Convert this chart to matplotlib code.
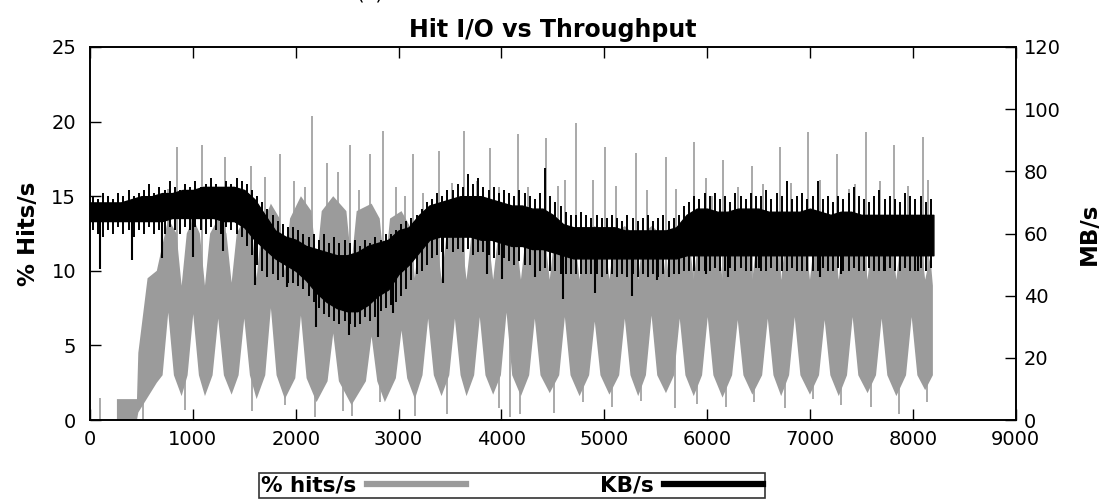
import numpy as np
import matplotlib.pyplot as plt

plt.rcParams['font.family'] = ['DejaVu Sans']

# ---- % hits/s : upper and lower edge of the dense trace ----
hit_hi_x = [262, 457, 470, 560, 650,
            761, 841, 891, 941, 1004, 1068, 1118, 1168, 1247, 1327, 1377, 1427,
            1500, 1570, 1620, 1670, 1759, 1845, 1895, 1945, 2051, 2153, 2203, 2253,
            2365, 2493, 2543, 2593, 2738, 2817, 2867, 2917, 3029, 3109, 3159, 3209,
            3288, 3368, 3418, 3468, 3548, 3611, 3661, 3711, 3790, 3870, 3920, 3970,
            4050, 4140, 4190, 4240, 4325, 4420, 4470, 4520, 4617, 4710, 4760, 4810,
            4908, 5000, 5050, 5100, 5200, 5280, 5330, 5380, 5460, 5550, 5600, 5650,
            5734, 5820, 5870, 5920, 6006, 6100, 6150, 6200, 6298, 6390, 6440, 6490,
            6590, 6670, 6720, 6770, 6852, 6950, 7000, 7050, 7143, 7230, 7280, 7330,
            7415, 7510, 7560, 7610, 7697, 7790, 7840, 7890, 7989, 8070, 8120, 8170,
            8195]
hit_hi_y = [1.4, 1.4, 4.5, 9.5, 10.0,
            13.5, 12.5, 9.0, 12.5, 13.5, 12.5, 9.0, 12.5, 13.5, 12.5, 9.2, 12.5,
            13.5, 13.0, 9.5, 13.0, 14.5, 13.5, 10.0, 13.5, 15.0, 14.0, 10.5, 14.0,
            15.0, 14.0, 10.5, 14.0, 14.5, 13.5, 10.0, 13.5, 14.0, 13.0, 9.5, 13.0,
            13.5, 12.5, 9.4, 12.5, 13.5, 12.5, 9.4, 12.5, 13.5, 12.5, 9.4, 12.5,
            13.5, 12.5, 9.4, 12.5, 13.0, 12.5, 9.4, 12.5, 13.0, 12.5, 9.4, 12.5,
            13.0, 12.5, 9.4, 12.5, 13.0, 12.5, 9.4, 12.5, 13.0, 12.5, 9.4, 12.5,
            13.0, 12.5, 9.4, 12.5, 13.0, 12.5, 9.4, 12.5, 13.0, 12.5, 9.4, 12.5,
            13.0, 12.5, 9.4, 12.5, 13.0, 12.5, 9.4, 12.5, 13.0, 12.5, 9.4, 12.5,
            13.0, 12.5, 9.4, 12.5, 13.0, 12.5, 9.4, 12.5, 13.0, 12.5, 9.4, 11.0,
            9.0]
hit_lo_x = [262, 457, 470, 560, 650,
            706, 761, 816, 891, 949, 1004, 1059, 1118, 1192, 1247, 1302, 1377,
            1445, 1500, 1555, 1620, 1704, 1759, 1814, 1895, 1996, 2051, 2106, 2203,
            2310, 2365, 2420, 2543, 2683, 2738, 2793, 2867, 2974, 3029, 3084, 3159,
            3233, 3288, 3343, 3418, 3493, 3548, 3603, 3661, 3735, 3790, 3845, 3920,
            3995, 4050, 4105, 4190, 4270, 4325, 4380, 4470, 4562, 4617, 4672, 4760,
            4853, 4908, 4963, 5050, 5145, 5200, 5255, 5330, 5405, 5460, 5515, 5600,
            5679, 5734, 5789, 5870, 5951, 6006, 6061, 6150, 6243, 6298, 6353, 6440,
            6535, 6590, 6645, 6720, 6797, 6852, 6907, 7000, 7088, 7143, 7198, 7280,
            7360, 7415, 7470, 7560, 7642, 7697, 7752, 7840, 7934, 7989, 8044, 8120,
            8195]
hit_lo_y = [0.0, 0.0, 0.5, 1.5, 2.5,
            3.0, 7.2, 3.0, 1.6, 3.0, 7.1, 3.0, 1.6, 3.0, 6.8, 3.0, 1.7,
            3.0, 6.8, 3.0, 1.4, 3.0, 7.5, 3.0, 1.4, 2.8, 7.0, 2.8, 1.2,
            2.6, 5.8, 2.6, 1.0, 2.6, 5.6, 2.6, 1.2, 2.8, 6.0, 2.8, 1.4,
            3.0, 6.8, 3.0, 1.6, 3.0, 6.8, 3.0, 1.6, 3.0, 6.9, 3.0, 1.7,
            3.0, 7.2, 3.0, 1.6, 3.0, 6.8, 3.0, 1.8, 3.0, 6.9, 3.0, 1.6,
            3.0, 6.6, 3.0, 1.7, 3.0, 6.8, 3.0, 1.6, 3.0, 7.0, 3.0, 1.8,
            3.0, 6.8, 3.0, 1.6, 3.0, 6.9, 3.0, 1.5, 3.0, 6.7, 3.0, 1.7,
            3.0, 6.8, 3.0, 1.6, 3.0, 6.9, 3.0, 1.7, 3.0, 6.7, 3.0, 1.6,
            3.0, 6.9, 3.0, 1.8, 3.0, 6.8, 3.0, 1.6, 3.0, 6.9, 3.0, 2.0,
            3.0]

# single samples that stick out of the hit trace
hit_spike_x = [849, 1092, 1312, 1565, 1843, 2161, 2300, 2527, 2721, 2851,
               3140, 3392, 3638, 3894, 4157, 4432, 4724, 5012, 5307, 5598,
               5877, 6155, 6437, 6706, 6985, 7263, 7542, 7817, 8099]
hit_spike_top = [18.3, 18.4, 17.6, 17.0, 17.8, 20.4, 17.2, 18.4, 17.8, 19.4,
                 17.8, 18.0, 19.4, 18.2, 19.2, 18.9, 19.9, 18.3, 17.9, 17.6,
                 18.6, 17.4, 17.0, 18.3, 19.3, 17.8, 19.3, 18.4, 19.0]
hit_mid_x = [760, 990, 1230, 1480, 1700, 1980, 2090, 2410, 2620, 2980,
             3060, 3240, 3520, 3760, 3980, 4260, 4552, 4622, 4886, 5119,
             5420, 5700, 5990, 6050, 6300, 6540, 6820, 7100, 7380, 7440,
             7680, 7950, 8150]
hit_mid_top = [15.5, 15.0, 15.8, 15.2, 16.3, 16.0, 15.6, 16.6, 15.4, 15.6,
               15.0, 15.2, 15.9, 16.0, 15.6, 15.6, 15.7, 16.1, 16.1, 15.7,
               15.4, 15.5, 16.2, 15.0, 15.6, 15.8, 15.9, 16.1, 15.5, 15.8,
               16.0, 15.7, 16.1]
hit_drop_x = [95, 520, 923, 1571, 1900, 2187, 2462, 2543, 2818, 3159,
              3470, 3976, 4082, 4180, 4510, 4790, 5080, 5360, 5686, 5900,
              6180, 6460, 6760, 7030, 7300, 7590, 7870, 8140]
hit_drop_low = [0.0, 0.0, 0.7, 0.6, 1.0, 0.2, 0.6, 0.3, 1.2, 0.3,
                0.4, 0.8, 0.2, 0.4, 0.5, 1.2, 0.9, 1.3, 0.8, 1.1,
                0.9, 1.2, 0.8, 1.4, 1.0, 0.9, 0.4, 1.2]

# ---- KB/s (plotted as MB/s) : core band every 100 s ----
kb_x = list(range(0, 8201, 100))
kb_lo = [64, 64, 64, 64, 64, 64, 64, 64, 65, 65,
         65, 65, 65, 64, 64, 62, 58, 55, 52, 50,
         48, 45, 41, 38, 36, 35, 35, 37, 40, 42,
         47, 50, 54, 58, 59, 59, 59, 59, 58, 58,
         57, 56, 56, 55, 55, 54, 53, 52, 52, 52,
         52, 52, 52, 52, 52, 52, 52, 52, 53, 53,
         53, 53, 53, 53, 53, 53, 53, 53, 53, 53,
         53, 53, 53, 53, 53, 53, 53, 53, 53, 53,
         53, 53, 53]
kb_hi = [70, 70, 70, 70, 71, 72, 72, 73, 73, 74,
         74, 75, 75, 75, 75, 74, 71, 66, 61, 59,
         58, 56, 55, 54, 53, 53, 54, 56, 57, 58,
         61, 62, 66, 69, 70, 71, 72, 72, 72, 71,
         70, 69, 69, 68, 68, 66, 63, 62, 62, 62,
         62, 62, 61, 61, 61, 61, 61, 62, 66, 68,
         68, 67, 67, 68, 68, 68, 67, 67, 67, 67,
         68, 67, 66, 67, 67, 66, 66, 66, 66, 66,
         66, 66, 66]

# min / max of KB/s in each 50 s slot
kb_slot_x = list(range(25, 8200, 50))
kb_max = [72, 71, 73, 72, 71, 73, 72, 74, 72, 73, 74, 76, 73, 75, 74, 77, 75, 74, 76, 75,
          77, 75, 76, 78, 76, 75, 77, 76, 78, 77, 76, 74, 72, 70, 68, 66, 64, 63, 62, 62,
          61, 60, 59, 60, 58, 60, 57, 59, 57, 58, 57, 58, 56, 58, 57, 59, 58, 60, 60, 61,
          63, 64, 65, 66, 68, 70, 71, 73, 72, 74, 74, 76, 75, 79, 76, 78, 75, 74, 75, 73,
          74, 73, 72, 74, 73, 72, 71, 73, 81, 72, 70, 69, 67, 66, 66, 67, 66, 65, 66, 65,
          65, 66, 65, 64, 66, 65, 64, 65, 66, 64, 65, 66, 64, 65, 66, 69, 70, 72, 71, 73,
          72, 73, 71, 72, 70, 73, 72, 71, 73, 72, 72, 74, 71, 73, 72, 77, 71, 72, 73, 71,
          72, 77, 71, 72, 70, 72, 71, 73, 75, 72, 71, 70, 72, 74, 71, 72, 71, 70, 73, 72,
          71, 72, 70, 71]
kb_min = [61, 60, 59, 61, 60, 62, 60, 61, 59, 61, 60, 62, 60, 61, 60, 62, 61, 60, 62, 61,
          62, 61, 60, 62, 61, 60, 62, 61, 60, 59, 56, 53, 50, 48, 46, 47, 45, 46, 44, 44,
          43, 42, 40, 38, 36, 34, 33, 32, 31, 32, 31, 30, 31, 33, 32, 33, 35, 36, 37, 38,
          40, 42, 45, 47, 48, 50, 52, 53, 54, 55, 54, 55, 54, 55, 53, 54, 54, 53, 52, 53,
          52, 51, 50, 51, 50, 50, 49, 48, 49, 48, 48, 47, 47, 47, 47, 47, 47, 47, 47, 46,
          47, 47, 46, 47, 46, 47, 46, 47, 46, 47, 46, 47, 46, 47, 47, 48, 48, 48, 48, 48,
          48, 49, 48, 48, 49, 48, 49, 48, 48, 49, 48, 48, 49, 48, 48, 48, 49, 48, 48, 48,
          48, 48, 49, 48, 48, 49, 48, 48, 49, 48, 48, 49, 48, 48, 48, 49, 48, 48, 49, 48,
          48, 49, 48, 49]
kb_dip_x = [100, 408, 700, 1000, 1293, 1604, 1911, 2200, 2520, 2800,
            2945, 3431, 3860, 4004, 4325, 4600, 4910, 5270, 5510, 5990,
            6200, 6500, 7100, 7300, 7720, 8050]
kb_dip_low = [48.5, 51.5, 52, 52.3, 54.5, 43.4, 42.9, 30, 27.4, 26.8,
              34.4, 44, 47, 45.5, 46, 39, 41, 40, 45, 47,
              46, 49, 46, 47, 48, 48]

GRAY = '#9b9b9b'

fig = plt.figure(figsize=(11.04, 5.0), dpi=100)
ax = fig.add_axes([0.0815, 0.16, 0.8385, 0.746])
ax2 = ax.twinx()

# hit trace: polygon between upper and lower edge, plus stray samples
ax.fill(hit_hi_x + hit_lo_x[::-1], hit_hi_y + hit_lo_y[::-1], color=GRAY, lw=0)
hit_mid = (np.interp(hit_spike_x, hit_hi_x, hit_hi_y) +
           np.interp(hit_spike_x, hit_lo_x, hit_lo_y)) / 2
ax.vlines(hit_spike_x, hit_mid, hit_spike_top, color=GRAY, lw=1.2)
hit_mid = (np.interp(hit_mid_x, hit_hi_x, hit_hi_y) +
           np.interp(hit_mid_x, hit_lo_x, hit_lo_y)) / 2
ax.vlines(hit_mid_x, hit_mid, hit_mid_top, color=GRAY, lw=1.2)
hit_mid = np.interp(hit_drop_x, hit_lo_x, hit_lo_y) + 1.5
ax.vlines(hit_drop_x, hit_drop_low, hit_mid, color=GRAY, lw=1.2)

# throughput: dense core, slot extremes and deep dips
ax2.fill_between(kb_x, kb_lo, kb_hi, color='black', lw=1.0)
ax2.vlines(kb_slot_x, kb_min, kb_max, color='black', lw=1.4)
kb_mid = (np.interp(kb_dip_x, kb_x, kb_lo) + np.interp(kb_dip_x, kb_x, kb_hi)) / 2
ax2.vlines(kb_dip_x, kb_dip_low, kb_mid, color='black', lw=1.5)

ax.set_xlim(0, 9000)
ax.set_ylim(0, 25)
ax2.set_ylim(0, 120)
ax.set_xticks(range(0, 9001, 1000))
ax.set_yticks(range(0, 26, 5))
ax2.set_yticks(range(0, 121, 20))

ax.tick_params(axis='x', direction='in', length=8, width=1, labelsize=14,
               top=True, pad=7)
ax.tick_params(axis='y', direction='in', length=8, width=1, labelsize=14,
               right=False, pad=10)
ax2.tick_params(direction='in', length=8, width=1, labelsize=14, pad=6)
for a in (ax, ax2):
    for s in a.spines.values():
        s.set_linewidth(1.2)

ax.set_ylabel('% Hits/s', fontsize=16.5, fontweight='bold', labelpad=8)
ax2.set_ylabel('MB/s', fontsize=16.5, fontweight='bold', labelpad=12)
ax.set_title('Hit I/O vs Throughput', fontsize=17, fontweight='bold', pad=7)
fig.text(0.335, 0.992, '(a)', fontsize=14, ha='center', va='bottom')

h1 = plt.Line2D([], [], color=GRAY, lw=4.5)
h2 = plt.Line2D([], [], color='black', lw=4.5)
leg = fig.legend([h1, h2], ['% hits/s', 'KB/s'], ncol=2, loc='center',
                 bbox_to_anchor=(0.464, 0.029), frameon=True, fancybox=False,
                 markerfirst=False, handlelength=4.6, columnspacing=6.2,
                 borderpad=0.1, handletextpad=0.5, borderaxespad=0,
                 prop={'weight': 'bold', 'size': 15.5})
leg.get_frame().set_edgecolor('black')
leg.get_frame().set_linewidth(1.2)

fig.savefig('out.png', dpi=100)
